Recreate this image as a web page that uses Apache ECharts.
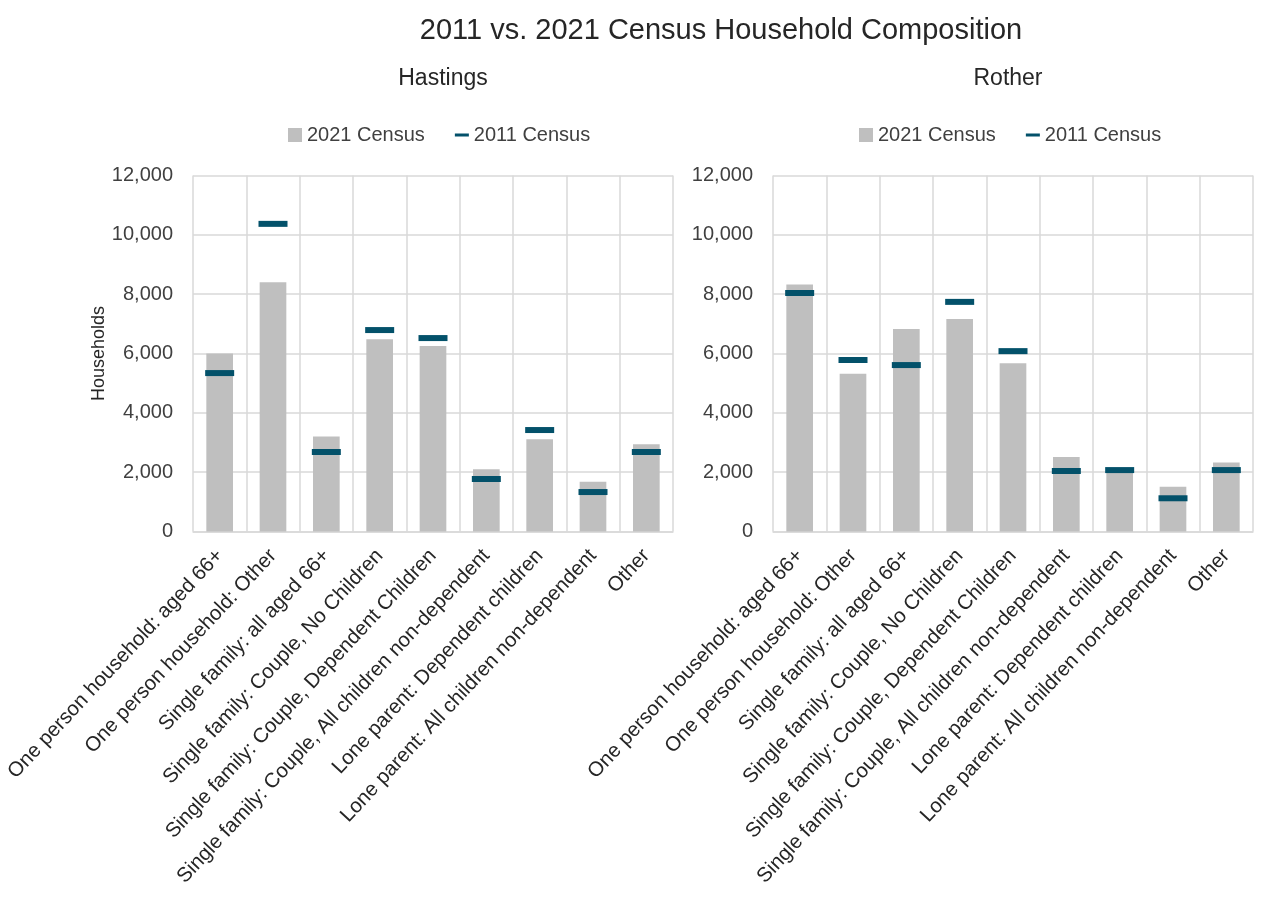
<!DOCTYPE html>
<html>
<head>
<meta charset="utf-8">
<title>2011 vs. 2021 Census Household Composition</title>
<script src="https://cdn.jsdelivr.net/npm/echarts@6/dist/echarts.min.js"></script>
<style>
  html, body { margin: 0; padding: 0; background: #ffffff; }
  #chart { width: 1262px; height: 900px; }
</style>
</head>
<body>
<div id="chart"></div>
<script>
// Household composition categories (shared by both districts)
const categories = [
  'One person household: aged 66+',
  'One person household: Other',
  'Single family: all aged 66+',
  'Single family: Couple, No Children',
  'Single family: Couple, Dependent Children',
  'Single family: Couple, All children non-dependent',
  'Lone parent: Dependent children',
  'Lone parent: All children non-dependent',
  'Other'
];

// Households per category
const hastings2021 = [6000, 8400, 3200, 6480, 6250, 2100, 3110, 1680, 2940];
const hastings2011 = [5340, 10370, 2680, 6790, 6520, 1770, 3420, 1330, 2680];
const rother2021 = [8330, 5320, 6830, 7160, 5670, 2510, 2090, 1510, 2330];
const rother2011 = [8040, 5780, 5610, 7740, 6080, 2040, 2070, 1120, 2070];

const districts = ['Hastings', 'Rother'];
const seriesNames = ['2021 Census', '2011 Census'];
const yTicks = { min: 0, max: 12000, interval: 2000 };

const FONT = '"Liberation Sans", Arial, sans-serif';
const BAR_COLOR = '#BFBFBF';
const MARK_COLOR = '#03516A';
const GRID_COLOR = '#D9D9D9';

const gridLeft = [193, 773];
const gridWidth = 480;
const gridTop = 175.5;
const gridHeight = 356;

const chart = echarts.init(document.getElementById('chart'), null, { renderer: 'canvas' });

// short horizontal dash centred in a 14x14 box
const dashIcon = 'path://M0,0 M14,14 M0,5.5 L14,5.5 L14,8.5 L0,8.5 Z';

function xAxisFor(i) {
  return {
    type: 'category',
    gridIndex: i,
    data: categories,
    boundaryGap: true,
    axisLine: { show: true, lineStyle: { color: GRID_COLOR, width: 1.5 } },
    axisTick: { show: false },
    splitLine: { show: true, lineStyle: { color: GRID_COLOR, width: 1.5 } },
    axisLabel: {
      interval: 0,
      rotate: 47,
      margin: 21,
      color: '#262626',
      fontFamily: FONT,
      fontSize: 20.5
    }
  };
}

function yAxisFor(i) {
  return {
    type: 'value',
    gridIndex: i,
    min: yTicks.min,
    max: yTicks.max,
    interval: yTicks.interval,
    name: i === 0 ? 'Households' : '',
    nameLocation: 'middle',
    nameGap: 83,
    nameTextStyle: { color: '#262626', fontFamily: FONT, fontSize: 18 },
    axisLine: { show: false },
    axisTick: { show: false },
    splitLine: { show: true, lineStyle: { color: GRID_COLOR, width: 1.5 } },
    axisLabel: {
      margin: 20,
      color: '#404040',
      fontFamily: FONT,
      fontSize: 20,
      formatter: v => v.toLocaleString('en-GB')
    }
  };
}

const values = [[hastings2021, hastings2011], [rother2021, rother2011]];

const series = [];
values.forEach((pair, i) => {
  series.push({
    name: seriesNames[0],
    type: 'bar',
    xAxisIndex: i,
    yAxisIndex: i,
    data: pair[0],
    barWidth: '50%',
    itemStyle: { color: BAR_COLOR },
    z: 2
  });
  series.push({
    name: seriesNames[1],
    type: 'scatter',
    xAxisIndex: i,
    yAxisIndex: i,
    data: pair[1],
    symbol: 'rect',
    symbolSize: [29, 6],
    itemStyle: { color: MARK_COLOR, opacity: 1 },
    z: 3
  });
});

const legendLefts = [288, 859];

chart.setOption({
  animation: false,
  backgroundColor: '#ffffff',
  title: [
    {
      text: '2011 vs. 2021 Census Household Composition',
      left: 721, top: 16, textAlign: 'center', padding: 0,
      textStyle: { color: '#262626', fontFamily: FONT, fontSize: 29, fontWeight: 'normal' }
    },
    {
      text: districts[0],
      left: 443, top: 67, textAlign: 'center', padding: 0,
      textStyle: { color: '#262626', fontFamily: FONT, fontSize: 23, fontWeight: 'normal' }
    },
    {
      text: districts[1],
      left: 1008, top: 67, textAlign: 'center', padding: 0,
      textStyle: { color: '#262626', fontFamily: FONT, fontSize: 23, fontWeight: 'normal' }
    }
  ],
  legend: legendLefts.map(l => ({
    left: l,
    top: 125,
    padding: 0,
    itemWidth: 14,
    itemHeight: 14,
    itemGap: 30,
    selectedMode: false,
    textStyle: { color: '#404040', fontFamily: FONT, fontSize: 20 },
    data: [
      { name: seriesNames[0], icon: 'rect' },
      { name: seriesNames[1], icon: dashIcon }
    ]
  })),
  grid: gridLeft.map(l => ({
    left: l, top: gridTop, width: gridWidth, height: gridHeight, containLabel: false
  })),
  xAxis: [xAxisFor(0), xAxisFor(1)],
  yAxis: [yAxisFor(0), yAxisFor(1)],
  series: series
});
</script>
</body>
</html>
